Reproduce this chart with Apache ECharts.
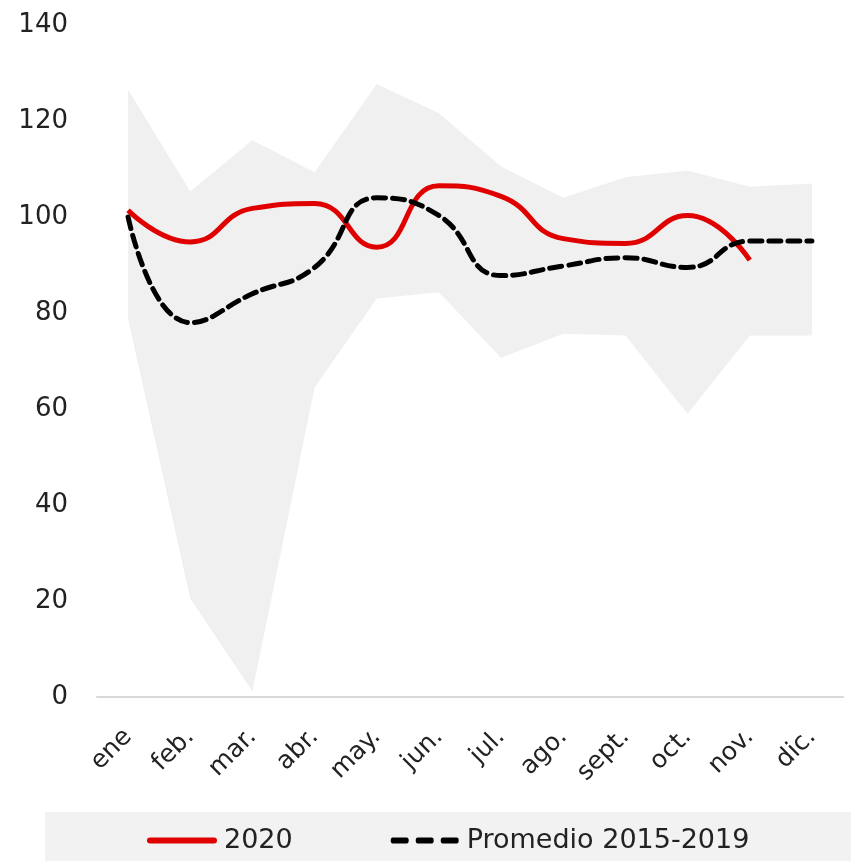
<!DOCTYPE html>
<html>
<head>
<meta charset="utf-8">
<script src="https://cdn.jsdelivr.net/npm/echarts@6/dist/echarts.min.js"></script>
<style>
html,body{margin:0;padding:0;background:#fff;}
#chart{width:851px;height:861px;}
</style>
</head>
<body>
<div id="chart"></div>
<script>
// meses
var months = ['ene','feb.','mar.','abr.','may.','jun.','jul.','ago.','sept.','oct.','nov.','dic.'];
// 2020
var serie2020 = [101.4, 94.8, 101.8, 102.8, 93.7, 106.5, 104.3, 95.5, 94.5, 100.3, 91];
// Promedio 2015-2019
var promedio = [100, 78, 84, 89.5, 104, 100.3, 87.8, 89.8, 91.5, 89.5, 95, 95];
// rango min / max 2015-2019
var rangoMax = [126.5, 105.3, 116, 109.3, 127.7, 121.6, 110.5, 104, 108.3, 109.7, 106.3, 107];
var rangoMin = [78.8, 20.5, 1.2, 64.5, 83, 84.3, 70.7, 75.7, 75.3, 59, 75.3, 75.3];

var rangoAlto = [];
for(var i=0;i<rangoMax.length;i++){
	rangoAlto.push(+(rangoMax[i] - rangoMin[i]).toFixed(2));
}

var font = 'DejaVu Sans, Verdana, sans-serif';
var myChart = echarts.init(document.getElementById('chart'));

var option = {
	animation: false,
	backgroundColor: '#fff',
	grid: {left: 97, right: 8, top: 25, bottom: 164},
	graphic: [{
		type: 'rect',
		z: -10,
		shape: {x: 45, y: 812, width: 806, height: 49},
		style: {fill: '#f2f2f2'}
	}],
	legend: {
		data: [
			{name: '2020', icon: 'path://M3,0h64a3,3 0 0 1 0,6h-64a3,3 0 0 1 0,-6z', itemStyle: {color: '#e00000'}},
			{name: 'Promedio 2015-2019', icon: 'path://M2,0h14a2,3 0 0 1 0,6h-14a2,3 0 0 1 0,-6zM27,0h14a2,3 0 0 1 0,6h-14a2,3 0 0 1 0,-6zM52,0h14a2,3 0 0 1 0,6h-14a2,3 0 0 1 0,-6z', itemStyle: {color: '#000'}}
		],
		left: 142,
		top: 822,
		itemWidth: 70,
		itemHeight: 6,
		itemGap: 98,
		textStyle: {fontFamily: font, fontSize: 27, color: '#222', padding: [0, 0, 0, 2]}
	},
	xAxis: {
		type: 'category',
		data: months,
		boundaryGap: true,
		axisLine: {lineStyle: {color: '#d9d9d9', width: 2}},
		axisTick: {show: false},
		axisLabel: {rotate: 45, margin: 36, interval: 0, fontFamily: font, fontSize: 25, color: '#222'}
	},
	yAxis: {
		type: 'value',
		min: 0,
		max: 140,
		interval: 20,
		axisLine: {show: false},
		axisTick: {show: false},
		splitLine: {show: false},
		axisLabel: {margin: 29, fontFamily: font, fontSize: 26, color: '#222'}
	},
	series: [
		{
			name: 'min',
			type: 'line',
			stack: 'rango',
			data: rangoMin,
			symbol: 'none',
			lineStyle: {width: 0, opacity: 0},
			silent: true,
			z: 1
		},
		{
			name: 'rango',
			type: 'line',
			stack: 'rango',
			data: rangoAlto,
			symbol: 'none',
			lineStyle: {width: 0, opacity: 0},
			areaStyle: {color: '#f0f0f0', opacity: 1},
			silent: true,
			z: 1
		},
		{
			name: '2020',
			type: 'line',
			data: serie2020,
			smooth: 0.5,
			symbol: 'none',
			itemStyle: {color: '#e00000'},
			lineStyle: {color: '#e00000', width: 5},
			z: 3
		},
		{
			name: 'Promedio 2015-2019',
			type: 'line',
			data: promedio,
			smooth: 0.5,
			symbol: 'none',
			itemStyle: {color: '#000'},
			lineStyle: {color: '#000', width: 5, type: [12, 7], cap: 'round'},
			z: 4
		}
	]
};
myChart.setOption(option);
</script>
</body>
</html>
